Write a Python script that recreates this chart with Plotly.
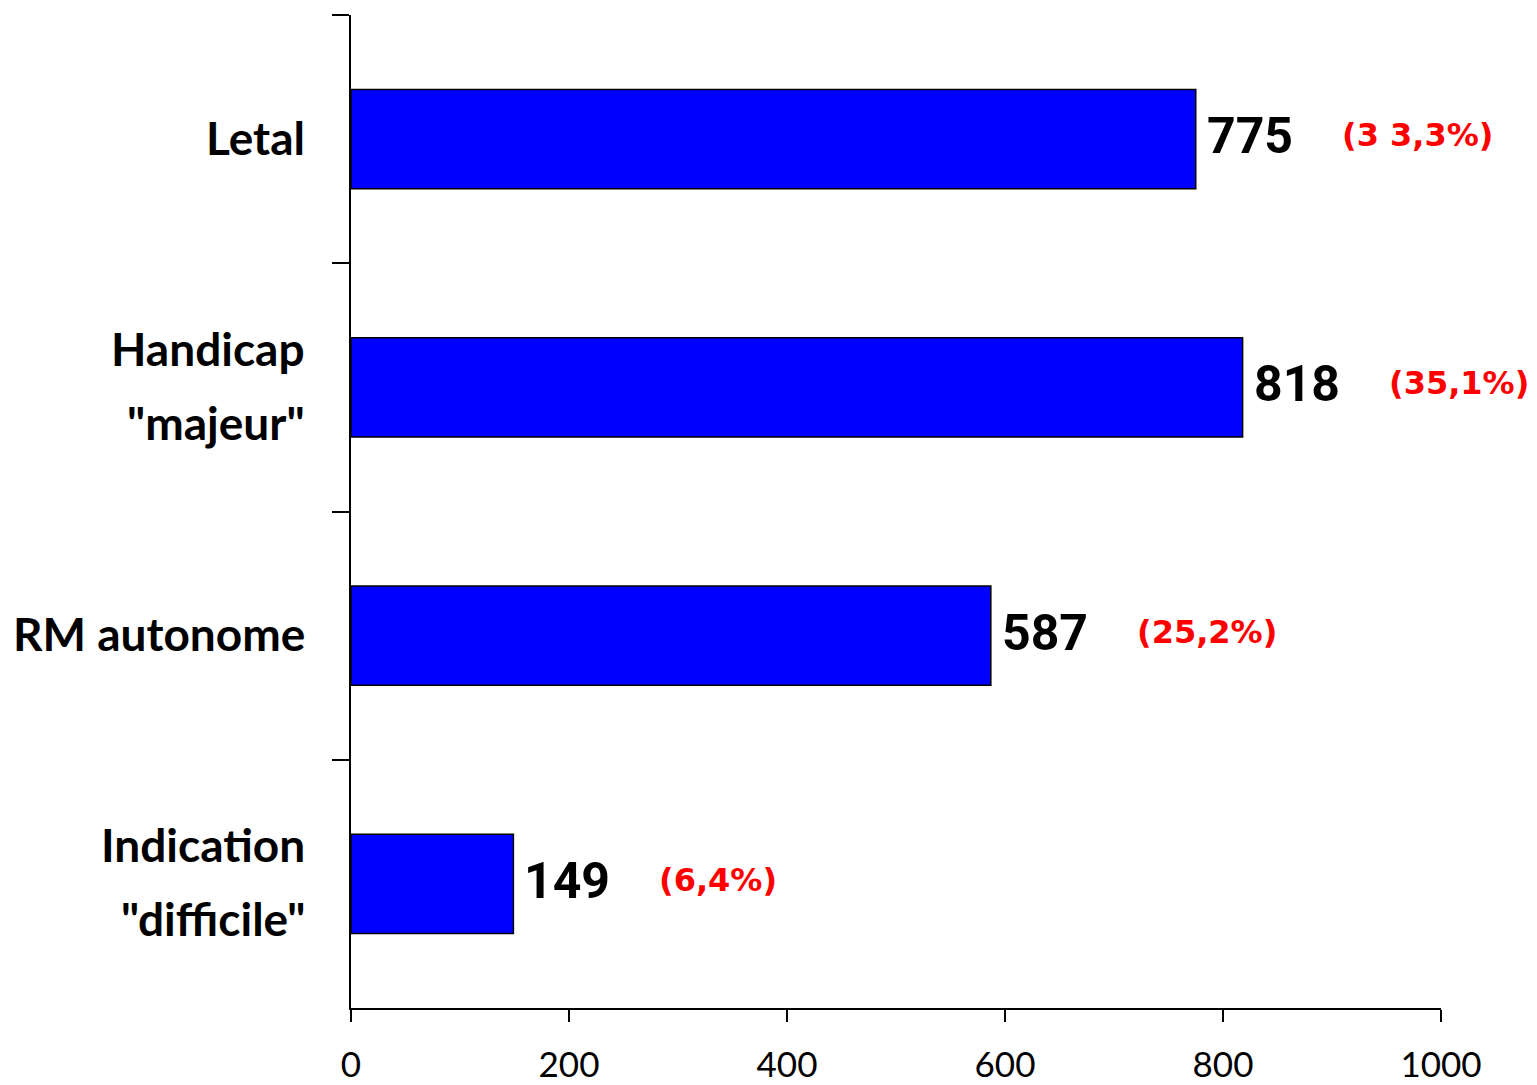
import plotly.graph_objects as go

categories = ["Letal", "Handicap \"majeur\"", "RM autonome", "Indication \"difficile\""]
category_lines = [["Letal"], ["Handicap", "\"majeur\""], ["RM autonome"], ["Indication", "\"difficile\""]]
values = [775, 818, 587, 149]
percent_labels = ["(3 3,3%)", "(35,1%)", "(25,2%)", "(6,4%)"]
x_ticks = [0, 200, 400, 600, 800, 1000]

FONT = "Lato"

fig = go.Figure()
fig.add_trace(go.Bar(
    y=categories, x=values, orientation="h",
    marker=dict(color="#0000FF", line=dict(color="black", width=1.5)),
    width=0.4, hoverinfo="skip",
))

for cat, lines, v, p in zip(categories, category_lines, values, percent_labels):
    fig.add_annotation(x=v, y=cat, text="<b>" + str(v) + "</b>", showarrow=False,
                       xanchor="left", yanchor="middle", xshift=9, yshift=3,
                       font=dict(family="Roboto", size=50, color="black"))
    fig.add_annotation(x=v, y=cat, text="<b>" + p + "</b>", showarrow=False,
                       xanchor="left", yanchor="middle", xshift=144, yshift=4,
                       font=dict(family="DejaVu Sans", size=32, color="#FF0000"))
    n = len(lines)
    for i, line in enumerate(lines):
        offset = (i - (n - 1) / 2) * 74
        fig.add_annotation(x=0, xref="paper", y=cat, text="<b>" + line + "</b>", showarrow=False,
                           xanchor="right", yanchor="middle", xshift=-44, yshift=-offset + 2,
                           font=dict(family=FONT, size=46, color="black"))

# bottom boundary tick on the category axis
fig.add_shape(type="line", xref="x", yref="paper", xsizemode="pixel", xanchor=0,
              x0=-17, x1=0, y0=0, y1=0, line=dict(color="black", width=2))

fig.update_layout(
    width=1537, height=1085,
    margin=dict(l=351, r=96, t=15, b=77),
    paper_bgcolor="white", plot_bgcolor="white",
    showlegend=False,
    bargap=0.6,
)
fig.update_xaxes(
    range=[0, 1000], tickvals=x_ticks, ticktext=[str(t) for t in x_ticks],
    showgrid=False, zeroline=False, automargin=False,
    showline=True, linecolor="black", linewidth=2,
    ticks="outside", ticklen=12, tickwidth=2, tickcolor="black",
    tickfont=dict(family=FONT, size=35, color="black"),
    ticklabelstandoff=13,
)
fig.update_yaxes(
    type="category", categoryorder="array", categoryarray=categories,
    autorange="reversed", automargin=False,
    tickson="boundaries", ticks="outside", ticklen=17, tickwidth=2, tickcolor="black",
    showline=True, linecolor="black", linewidth=2,
    showgrid=False, zeroline=False, showticklabels=False,
)

fig.write_html("out.html")
